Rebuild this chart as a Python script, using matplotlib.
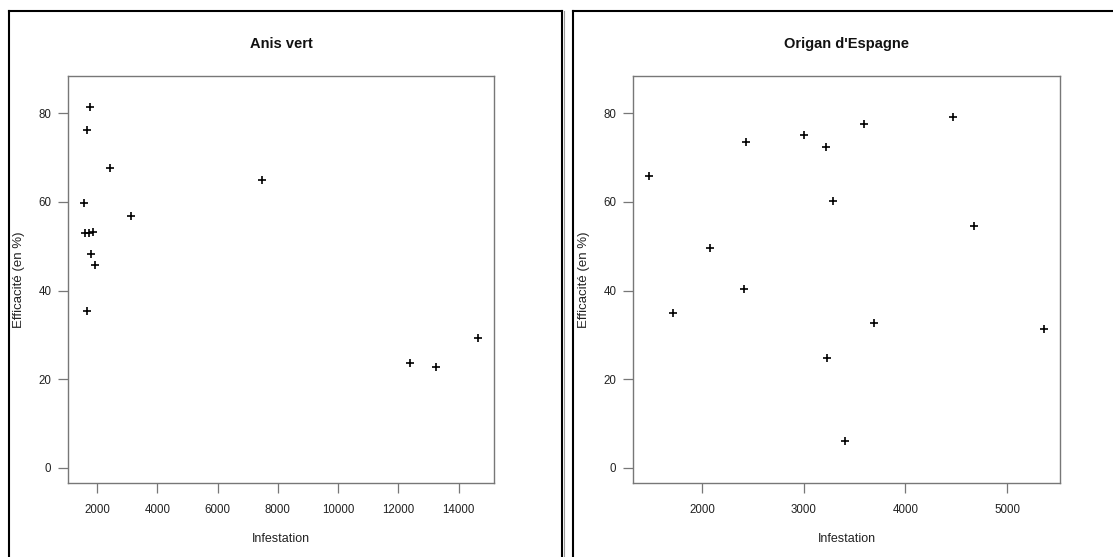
import matplotlib
matplotlib.use("Agg")
import matplotlib.pyplot as plt
from matplotlib.lines import Line2D

plt.rcParams['font.family'] = ['Liberation Sans', 'DejaVu Sans']

# Anis vert
anis_infestation = [1760, 1680, 2440, 7480, 1560, 3120, 1590, 1730, 1860, 1790,
                    1930, 1680, 12380, 13250, 14650]
anis_efficacite = [81.4, 76.3, 67.6, 64.9, 59.8, 56.8, 53.0, 53.0, 53.3, 48.2,
                   45.8, 35.3, 23.7, 22.8, 29.4]

# Origan d'Espagne
origan_infestation = [1475, 2079, 2430, 3003, 3219, 3291, 3590, 4471, 4672,
                      1712, 2416, 3232, 3406, 3691, 5366]
origan_efficacite = [65.8, 49.5, 73.6, 75.1, 72.4, 60.2, 77.5, 79.1, 54.6,
                     34.9, 40.4, 24.7, 6.1, 32.6, 31.4]

titles = ["Anis vert", "Origan d'Espagne"]
xticks = [[2000, 4000, 6000, 8000, 10000, 12000, 14000],
          [2000, 3000, 4000, 5000]]
yticks = [0, 20, 40, 60, 80]

W, H = 1113, 557
fig = plt.figure(figsize=(W / 100, H / 100), dpi=100)


def fx(px):
    return px / W


def fy(py):
    return 1 - py / H


def r_range(vals, lo=None, hi=None):
    # same 4% padding R uses around the data
    lo = min(vals) if lo is None else lo
    hi = max(vals) if hi is None else hi
    d = (hi - lo) * 0.04
    return lo - d, hi + d


panels = [(68, 494, anis_infestation, anis_efficacite),
          (633, 1060, origan_infestation, origan_efficacite)]
top, bottom = 76, 483
txt = '#222222'
edge = '#777777'

for i, (x0, x1, xs, ys) in enumerate(panels):
    ax = fig.add_axes([fx(x0), fy(bottom), (x1 - x0) / W, (bottom - top) / H])
    ax.plot(xs, ys, linestyle='none', marker='+', markersize=5.5,
            markeredgewidth=1.2, color='black')
    ax.set_xlim(*r_range(xs))
    ax.set_ylim(*r_range(ys, 0, 85))
    ax.set_xticks(xticks[i])
    ax.set_yticks(yticks)
    for s in ax.spines.values():
        s.set_color(edge)
        s.set_linewidth(1.0)
    ax.tick_params(axis='both', length=7, width=0.9, color=edge,
                   labelsize=8.3, labelcolor=txt)
    ax.tick_params(axis='x', pad=8)
    ax.tick_params(axis='y', pad=5)
    xc = (x0 + x1) / 2
    fig.text(fx(xc), fy(44), titles[i], ha='center', va='center',
             fontsize=10.5, fontweight='bold', color='#111111')
    fig.text(fx(xc), fy(539), "Infestation", ha='center', va='center',
             fontsize=9, color=txt)
    fig.text(fx(x0 - 49), fy((top + bottom) / 2), "Efficacité (en %)",
             ha='center', va='center', rotation=90, fontsize=9.5, color=txt)

# black frames around the two panels
frame = dict(color='black', linewidth=1.5, solid_capstyle='projecting')
tf = fig.transFigure
fig.add_artist(Line2D([fx(9), fx(9)], [fy(10.5), 0], transform=tf, **frame))
fig.add_artist(Line2D([fx(9), fx(562)], [fy(10.5), fy(10.5)], transform=tf, **frame))
fig.add_artist(Line2D([fx(562), fx(562)], [fy(10.5), 0], transform=tf, **frame))
fig.add_artist(Line2D([fx(563.8), fx(563.8)], [fy(10.5), 0], transform=tf,
                      color='#999999', linewidth=0.8))
fig.add_artist(Line2D([fx(573), fx(573)], [fy(10.5), 0], transform=tf, **frame))
fig.add_artist(Line2D([fx(573), 1], [fy(10.5), fy(10.5)], transform=tf, **frame))

fig.savefig("out.png", dpi=100)
